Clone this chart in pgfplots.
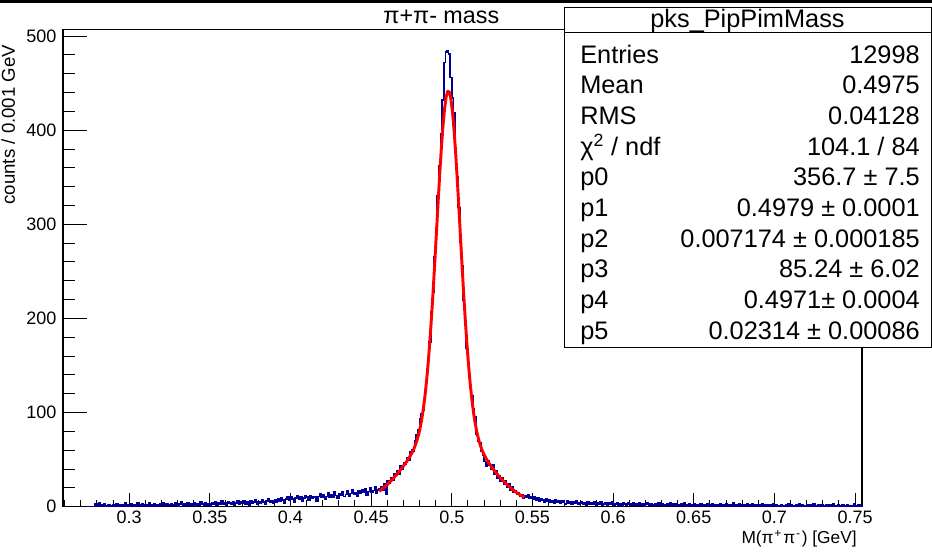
\documentclass[border=0pt]{standalone}
\usepackage{pgfplots}
\pgfplotsset{compat=1.18}
\usepackage{fontspec}
\setmainfont{Liberation Sans}
\definecolor{histblue}{RGB}{0,0,150}
\definecolor{fitred}{RGB}{255,0,0}

\begin{document}
\begin{tikzpicture}[x=1pt,y=1pt]
\useasboundingbox (0,0) rectangle (699,414);
\fill[black] (0,411.8) rectangle (699,414);

% histogram and fit, x ticks
\begin{axis}[
  at={(47.25pt,33.98pt)}, anchor=south west,
  scale only axis, width=599.25pt, height=357.9pt,
  xmin=0.259, xmax=0.7543, ymin=0, ymax=507,
  axis line style={black, line width=0.9pt},
  tick align=inside, xtick pos=bottom, ytick=\empty,
  every tick/.style={black, line width=0.75pt},
  major tick length=10.5pt, minor tick length=5pt,
  xtick={0.3,0.35,0.4,0.45,0.5,0.55,0.6,0.65,0.7,0.75},
  xticklabels={0.3,0.35,0.4,0.45,0.5,0.55,0.6,0.65,0.7,0.75},
  minor xtick={0.26,0.27,0.28,0.29,0.31,0.32,0.33,0.34,0.36,0.37,0.38,0.39,0.41,0.42,0.43,0.44,0.46,0.47,0.48,0.49,0.51,0.52,0.53,0.54,0.56,0.57,0.58,0.59,0.61,0.62,0.63,0.64,0.66,0.67,0.68,0.69,0.71,0.72,0.73,0.74},
  xticklabel style={font=\fontsize{13.5}{16}\selectfont},
  clip=true,
]
% counts per 0.001 GeV bin (left bin edge, entries)
\addplot[const plot mark left, histblue, line width=1.2pt] table[row sep=\\] {
x y\\
0.259 0\\
0.279 3\\ 0.280 2\\ 0.281 4\\ 0.282 1\\ 0.283 2\\ 0.284 3\\ 0.285 0\\ 0.286 1\\ 0.287 2\\ 0.288 1\\
0.289 0\\ 0.290 2\\ 0.291 1\\ 0.292 3\\ 0.293 1\\ 0.294 2\\ 0.295 0\\ 0.296 2\\ 0.297 4\\ 0.298 1\\
0.299 2\\ 0.300 1\\ 0.301 3\\ 0.302 2\\ 0.303 0\\ 0.304 2\\ 0.305 4\\ 0.306 2\\ 0.307 1\\ 0.308 3\\
0.309 2\\ 0.310 1\\ 0.311 2\\ 0.312 4\\ 0.313 1\\ 0.314 2\\ 0.315 3\\ 0.316 1\\ 0.317 2\\ 0.318 0\\
0.319 3\\ 0.320 2\\ 0.321 4\\ 0.322 1\\ 0.323 3\\ 0.324 2\\ 0.325 1\\ 0.326 3\\ 0.327 2\\ 0.328 4\\
0.329 2\\ 0.330 1\\ 0.331 3\\ 0.332 5\\ 0.333 2\\ 0.334 3\\ 0.335 1\\ 0.336 4\\ 0.337 2\\ 0.338 3\\
0.339 2\\ 0.340 4\\ 0.341 1\\ 0.342 3\\ 0.343 2\\ 0.344 5\\ 0.345 3\\ 0.346 2\\ 0.347 4\\ 0.348 2\\
0.349 3\\ 0.350 1\\ 0.351 4\\ 0.352 3\\ 0.353 5\\ 0.354 2\\ 0.355 4\\ 0.356 3\\ 0.357 6\\ 0.358 3\\
0.359 4\\ 0.360 2\\ 0.361 5\\ 0.362 4\\ 0.363 3\\ 0.364 5\\ 0.365 2\\ 0.366 4\\ 0.367 6\\ 0.368 3\\
0.369 5\\ 0.370 4\\ 0.371 6\\ 0.372 3\\ 0.373 5\\ 0.374 2\\ 0.375 6\\ 0.376 4\\ 0.377 5\\ 0.378 7\\
0.379 3\\ 0.380 5\\ 0.381 4\\ 0.382 7\\ 0.383 5\\ 0.384 3\\ 0.385 6\\ 0.386 8\\ 0.387 5\\ 0.388 6\\
0.389 4\\ 0.390 7\\ 0.391 5\\ 0.392 8\\ 0.393 6\\ 0.394 9\\ 0.395 7\\ 0.396 4\\ 0.397 8\\ 0.398 10\\
0.399 7\\ 0.400 10\\ 0.401 8\\ 0.402 5\\ 0.403 9\\ 0.404 12\\ 0.405 8\\ 0.406 10\\ 0.407 6\\ 0.408 9\\
0.409 12\\ 0.410 10\\ 0.411 7\\ 0.412 12\\ 0.413 9\\ 0.414 11\\ 0.415 10\\ 0.416 6\\ 0.417 11\\ 0.418 14\\
0.419 10\\ 0.420 13\\ 0.421 8\\ 0.422 11\\ 0.423 15\\ 0.424 10\\ 0.425 13\\ 0.426 10\\ 0.427 16\\ 0.428 12\\
0.429 9\\ 0.430 14\\ 0.431 12\\ 0.432 16\\ 0.433 11\\ 0.434 13\\ 0.435 17\\ 0.436 11\\ 0.437 14\\ 0.438 18\\
0.439 13\\ 0.440 15\\ 0.441 11\\ 0.442 17\\ 0.443 14\\ 0.444 18\\ 0.445 15\\ 0.446 19\\ 0.447 12\\ 0.448 16\\
0.449 20\\ 0.450 15\\ 0.451 17\\ 0.452 21\\ 0.453 14\\ 0.454 18\\
0.455 19\\ 0.456 21\\ 0.457 17\\ 0.458 24\\ 0.459 13\\ 0.460 27\\ 0.461 25\\ 0.462 31\\ 0.463 28\\ 0.464 35\\
0.465 33\\ 0.466 38\\ 0.467 34\\ 0.468 43\\ 0.469 40\\ 0.470 47\\ 0.471 45\\ 0.472 52\\ 0.473 49\\ 0.474 58\\
0.475 60\\ 0.476 59\\ 0.477 70\\ 0.478 76\\ 0.479 82\\ 0.480 93\\ 0.481 99\\ 0.482 103\\ 0.483 122\\ 0.484 133\\
0.485 158\\ 0.486 175\\ 0.487 207\\ 0.488 228\\ 0.489 265\\ 0.490 296\\ 0.491 330\\ 0.492 362\\ 0.493 396\\ 0.494 432\\
0.495 472\\ 0.496 483\\ 0.497 484\\ 0.498 481\\ 0.499 456\\ 0.500 434\\ 0.501 418\\ 0.502 381\\ 0.503 350\\ 0.504 318\\
0.505 281\\ 0.506 256\\ 0.507 219\\ 0.508 197\\ 0.509 168\\ 0.510 152\\ 0.511 127\\ 0.512 118\\ 0.513 104\\ 0.514 95\\
0.515 77\\ 0.516 70\\ 0.517 68\\ 0.518 59\\ 0.519 55\\ 0.520 48\\ 0.521 43\\ 0.522 49\\ 0.523 44\\ 0.524 40\\
0.525 45\\ 0.526 35\\ 0.527 38\\ 0.528 30\\ 0.529 33\\ 0.530 27\\ 0.531 31\\ 0.532 24\\ 0.533 27\\ 0.534 21\\
0.535 24\\ 0.536 18\\ 0.537 21\\ 0.538 15\\ 0.539 17\\ 0.540 13\\ 0.541 15\\ 0.542 11\\ 0.543 13\\ 0.544 9\\
0.545 12\\ 0.546 10\\ 0.547 13\\ 0.548 9\\ 0.549 11\\
0.550 8\\ 0.551 10\\ 0.552 7\\ 0.553 9\\ 0.554 6\\ 0.555 8\\ 0.556 7\\ 0.557 5\\ 0.558 8\\ 0.559 6\\
0.560 7\\ 0.561 5\\ 0.562 6\\ 0.563 4\\ 0.564 7\\ 0.565 5\\ 0.566 6\\ 0.567 4\\ 0.568 6\\ 0.569 5\\
0.570 3\\ 0.571 6\\ 0.572 4\\ 0.573 5\\ 0.574 3\\ 0.575 5\\ 0.576 4\\ 0.577 6\\ 0.578 3\\ 0.579 4\\
0.580 5\\ 0.581 3\\ 0.582 4\\ 0.583 2\\ 0.584 5\\ 0.585 3\\ 0.586 4\\ 0.587 3\\ 0.588 5\\ 0.589 2\\
0.590 4\\ 0.591 3\\ 0.592 5\\ 0.593 2\\ 0.594 3\\ 0.595 4\\ 0.596 2\\ 0.597 4\\ 0.598 3\\ 0.599 5\\
0.600 2\\ 0.601 3\\ 0.602 4\\ 0.603 2\\ 0.604 3\\ 0.605 1\\ 0.606 4\\ 0.607 3\\ 0.608 2\\ 0.609 4\\
0.610 3\\ 0.611 2\\ 0.612 4\\ 0.613 1\\ 0.614 3\\ 0.615 2\\ 0.616 4\\ 0.617 2\\ 0.618 3\\ 0.619 1\\
0.620 3\\ 0.621 4\\ 0.622 2\\ 0.623 3\\ 0.624 2\\ 0.625 1\\ 0.626 3\\ 0.627 2\\ 0.628 4\\ 0.629 2\\
0.630 3\\ 0.631 1\\ 0.632 2\\ 0.633 3\\ 0.634 2\\ 0.635 4\\ 0.636 1\\ 0.637 3\\ 0.638 2\\ 0.639 3\\
0.640 2\\ 0.641 1\\ 0.642 3\\ 0.643 2\\ 0.644 4\\ 0.645 2\\ 0.646 1\\ 0.647 3\\ 0.648 2\\ 0.649 1\\
0.650 3\\ 0.651 2\\ 0.652 1\\ 0.653 2\\ 0.654 3\\ 0.655 1\\ 0.656 2\\ 0.657 2\\ 0.658 3\\ 0.659 1\\
0.660 2\\ 0.661 3\\ 0.662 1\\ 0.663 2\\ 0.664 0\\ 0.665 2\\ 0.666 3\\ 0.667 1\\ 0.668 2\\ 0.669 1\\
0.670 3\\ 0.671 2\\ 0.672 1\\ 0.673 2\\ 0.674 4\\ 0.675 1\\ 0.676 2\\ 0.677 1\\ 0.678 3\\ 0.679 2\\
0.680 1\\ 0.681 2\\ 0.682 0\\ 0.683 3\\ 0.684 1\\ 0.685 2\\ 0.686 3\\ 0.687 1\\ 0.688 2\\ 0.689 1\\
0.690 2\\ 0.691 1\\ 0.692 3\\ 0.693 1\\ 0.694 2\\ 0.695 0\\ 0.696 2\\ 0.697 1\\ 0.698 2\\ 0.699 3\\
0.700 1\\ 0.701 2\\ 0.702 1\\ 0.703 0\\ 0.704 2\\ 0.705 1\\ 0.706 1\\ 0.707 2\\ 0.708 3\\ 0.709 1\\
0.710 2\\ 0.711 1\\ 0.712 0\\ 0.713 2\\ 0.714 1\\ 0.715 3\\ 0.716 1\\ 0.717 2\\ 0.718 1\\ 0.719 0\\
0.720 2\\ 0.721 1\\ 0.722 2\\ 0.723 1\\ 0.724 3\\ 0.725 1\\ 0.726 0\\ 0.727 2\\ 0.728 1\\ 0.729 2\\
0.730 1\\ 0.731 0\\ 0.732 2\\ 0.733 1\\ 0.734 2\\ 0.735 1\\ 0.736 3\\ 0.737 1\\ 0.738 0\\ 0.739 2\\
0.740 1\\ 0.741 1\\ 0.742 2\\ 0.743 0\\ 0.744 1\\ 0.745 2\\ 0.746 1\\ 0.747 0\\ 0.748 1\\ 0.749 3\\
0.750 1\\ 0.751 0\\ 0.752 2\\ 0.753 1\\ 0.754 3\\ 0.755 3\\
};
% double-Gaussian fit over 0.455 -- 0.545 GeV
\addplot[fitred, line width=2.2pt, line join=round] table[row sep=\\] {
x y\\
0.4550 16.3\\ 0.4555 16.9\\ 0.4565 18.3\\ 0.4575 19.7\\ 0.4585 21.2\\ 0.4595 22.8\\ 0.4605 24.4\\ 0.4615 26.1\\
0.4625 27.9\\ 0.4635 29.7\\ 0.4645 31.6\\ 0.4655 33.6\\ 0.4665 35.6\\ 0.4675 37.7\\ 0.4685 39.8\\ 0.4695 42.0\\
0.4705 44.3\\ 0.4715 46.6\\ 0.4725 49.1\\ 0.4735 51.8\\ 0.4745 54.6\\ 0.4755 57.8\\ 0.4765 61.5\\ 0.4775 65.8\\
0.4785 70.9\\ 0.4795 77.1\\ 0.4805 84.7\\ 0.4815 94.0\\ 0.4825 105.5\\ 0.4835 119.3\\ 0.4845 135.8\\ 0.4855 155.3\\
0.4865 177.7\\ 0.4875 202.9\\ 0.4885 230.8\\ 0.4895 260.5\\ 0.4905 291.3\\ 0.4915 322.4\\ 0.4925 352.3\\ 0.4935 379.7\\
0.4945 403.5\\ 0.4955 422.3\\ 0.4965 435.2\\ 0.4975 441.3\\ 0.4985 440.6\\ 0.4995 432.7\\ 0.5005 418.3\\ 0.5015 398.2\\
0.5025 373.4\\ 0.5035 345.0\\ 0.5045 314.6\\ 0.5055 283.3\\ 0.5065 252.4\\ 0.5075 222.8\\ 0.5085 195.2\\ 0.5095 170.3\\
0.5105 148.4\\ 0.5115 129.4\\ 0.5125 113.3\\ 0.5135 99.8\\ 0.5145 88.8\\ 0.5155 79.7\\ 0.5165 72.4\\ 0.5175 66.3\\
0.5185 61.4\\ 0.5195 57.2\\ 0.5205 53.6\\ 0.5215 50.5\\ 0.5225 47.7\\ 0.5235 45.1\\ 0.5245 42.7\\ 0.5255 40.3\\
0.5265 38.1\\ 0.5275 36.0\\ 0.5285 33.9\\ 0.5295 31.9\\ 0.5305 30.0\\ 0.5315 28.2\\ 0.5325 26.4\\ 0.5335 24.7\\
0.5345 23.0\\ 0.5355 21.5\\ 0.5365 20.0\\ 0.5375 18.5\\ 0.5385 17.2\\ 0.5395 15.9\\ 0.5405 14.7\\ 0.5415 13.5\\
0.5425 12.4\\ 0.5435 11.4\\ 0.5445 10.4\\ 0.5450 10.0\\
};
\end{axis}

% y ticks (longer, as on the vertical axis)
\begin{axis}[
  at={(47.25pt,33.98pt)}, anchor=south west,
  scale only axis, width=599.25pt, height=357.9pt,
  xmin=0.259, xmax=0.7543, ymin=0, ymax=507,
  axis line style={draw=none},
  tick align=inside, ytick pos=left, xtick=\empty,
  every tick/.style={black, line width=0.75pt},
  major tick length=18pt, minor tick length=9pt,
  ytick={0,100,200,300,400,500},
  minor ytick={20,40,60,80,120,140,160,180,220,240,260,280,320,340,360,380,420,440,460,480},
  yticklabel style={font=\fontsize{13.5}{16}\selectfont, xshift=-1.5pt},
  /pgf/number format/assume math mode=true,
]
\end{axis}

% titles and axis labels
\node[font=\fontsize{17.5}{20}\selectfont] at (331,401) {π+π- mass};
\node[font=\fontsize{14}{16}\selectfont, rotate=90, anchor=east] at (6.2,384) {counts / 0.001 GeV};
\node[font=\fontsize{13}{16}\selectfont, anchor=east, inner sep=0pt] at (642.75,10.2)
  {M(π\kern0.6pt\textsuperscript{+}\kern0.8ptπ\kern0.6pt\textsuperscript{-}\kern0.8pt) [GeV]};

% statistics box
\draw[fill=white, line width=0.75pt] (423,153) rectangle (698.25,408);
\draw[line width=0.75pt] (423,389.25) -- (698.25,389.25);
\node[font=\fontsize{19}{22}\selectfont] at (560.6,398.6) {pks\_PipPimMass};
\begin{scope}[font=\fontsize{19}{22}\selectfont, inner sep=0pt]
\foreach \lab/\val [count=\i from 0] in {
  Entries/12998,
  Mean/0.4975,
  RMS/0.04128,
  {χ\textsuperscript{2} / ndf}/{104.1 / 84},
  p0/{356.7 ± 7.5},
  p1/{0.4979 ± 0.0001},
  p2/{0.007174 ± 0.000185},
  p3/{85.24 ± 6.02},
  p4/{0.4971± 0.0004},
  p5/{0.02314 ± 0.00086}} {
  \node[anchor=mid west] at (435,{(552-59.5-30.7*\i)*0.75}) {\lab};
  \node[anchor=mid east] at (690,{(552-59.5-30.7*\i)*0.75}) {\val};
}
\end{scope}
\end{tikzpicture}
\end{document}
